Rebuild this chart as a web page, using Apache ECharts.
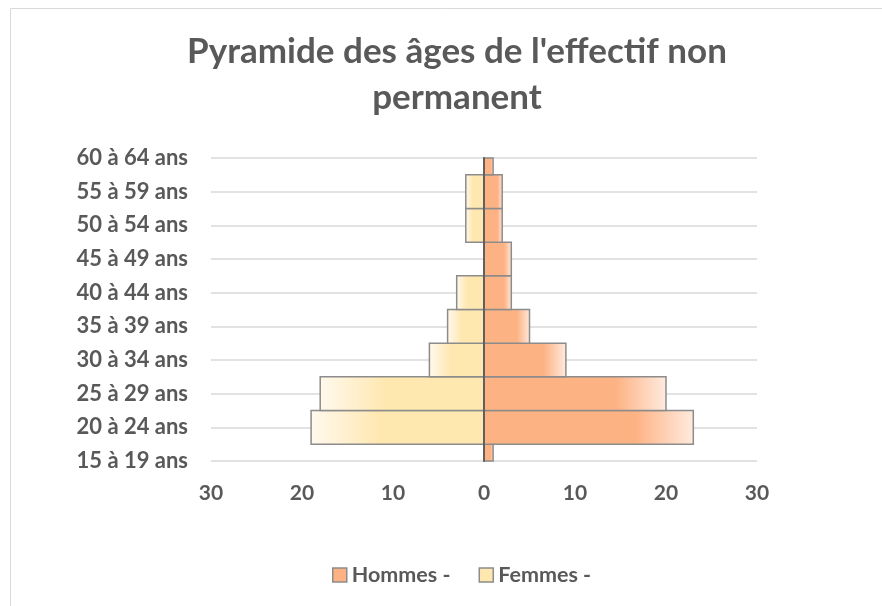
<!DOCTYPE html>
<html><head><meta charset="utf-8">
<script src="https://cdn.jsdelivr.net/npm/echarts@6/dist/echarts.min.js"></script>
<style>html,body{margin:0;padding:0;background:#fff}#c{width:882px;height:606px}</style>
</head><body><div id="c"></div>
<script>
const categories = ['15 à 19 ans','20 à 24 ans','25 à 29 ans','30 à 34 ans','35 à 39 ans','40 à 44 ans','45 à 49 ans','50 à 54 ans','55 à 59 ans','60 à 64 ans'];
const hommes = [1, 23, 20, 9, 5, 3, 3, 2, 2, 1];
const femmes = [0, -19, -18, -6, -4, -3, 0, -2, -2, 0];
const seriesNames = ['Hommes -', 'Femmes -'];
const titleText = "Pyramide des âges de l'effectif non\npermanent";

const chart = echarts.init(document.getElementById('c'));
const txt = '#595959';
const font = 'Lato';

const gradH = new echarts.graphic.LinearGradient(0, 0, 1, 0, [
  {offset: 0, color: '#FDB283'}, {offset: 0.72, color: '#FDB283'}, {offset: 1, color: '#FFEBE0'}]);
const gradF = new echarts.graphic.LinearGradient(0, 0, 1, 0, [
  {offset: 0, color: '#FFF9EE'}, {offset: 0.4, color: '#FFE7B0'}, {offset: 1, color: '#FFE7B0'}]);

function makeRender(fill) {
  return function (params, api) {
    const v = api.value(0);
    const idx = api.value(1);
    if (!v) return null;
    const p0 = api.coord([0, idx]);
    const p1 = api.coord([v, idx]);
    const h = api.size([0, idx])[1];
    const cs = params.coordSys;
    const rect = echarts.graphic.clipRectByRect(
      {x: Math.min(p0[0], p1[0]), y: p0[1] - h / 2, width: Math.abs(p1[0] - p0[0]), height: h},
      {x: cs.x, y: cs.y, width: cs.width, height: cs.height});
    if (!rect) return null;
    return {type: 'rect', shape: rect, style: {fill: fill, stroke: '#8C8C8C', lineWidth: 1.5}};
  };
}

chart.setOption({
  animation: false,
  textStyle: {fontFamily: font},
  graphic: [{type:'rect', shape:{x:10.5,y:8.5,width:900,height:700}, style:{fill:null, stroke:'#D9D9D9', lineWidth:1}, silent:true, z:-10}],
  title: {
    text: titleText, left: 452, top: 24, textAlign: 'center',
    textStyle: {fontFamily: font, fontSize: 35, fontWeight: 'bold', color: txt, lineHeight: 46}
  },
  legend: {
    top: 559, left: 327, itemWidth: 14, itemHeight: 14, itemGap: 28,
    textStyle: {fontFamily: font, fontSize: 21.5, fontWeight: 'bold', color: txt},
    data: [
      {name: seriesNames[0], icon: 'rect', itemStyle: {color: '#FDB283', borderColor: '#8C8C8C', borderWidth: 1.5}},
      {name: seriesNames[1], icon: 'rect', itemStyle: {color: '#FFE7B0', borderColor: '#8C8C8C', borderWidth: 1.5}}
    ]
  },
  grid: {left: 211, right: 125, top: 158, bottom: 145, containLabel: false},
  xAxis: {
    type: 'value', min: -30, max: 30, interval: 10,
    axisLine: {show: false}, axisTick: {show: false}, splitLine: {show: false},
    axisLabel: {margin: 22, fontFamily: font, fontSize: 21, fontWeight: 'bold', color: txt,
      formatter: v => Math.abs(v)}
  },
  yAxis: [
    {
      type: 'category', data: categories, boundaryGap: false,
      axisLine: {show: false, onZero: false}, axisTick: {show: false},
      splitLine: {show: true, lineStyle: {color: '#D9D9D9', width: 1.5}},
      axisLabel: {margin: 23, fontFamily: font, fontSize: 22, fontWeight: 'bold', color: txt}
    },
    {
      type: 'category', data: categories, boundaryGap: false, position: 'left', z: 10,
      axisLine: {show: true, onZero: true, lineStyle: {color: '#606060', width: 2}},
      axisTick: {show: false}, axisLabel: {show: false}, splitLine: {show: false}
    }
  ],
  series: [
    {
      name: seriesNames[0], type: 'custom', renderItem: makeRender(gradH),
      encode: {x: 0, y: 1}, yAxisIndex: 0,
      itemStyle: {color: '#FDB283'},
      data: hommes.map((v, i) => [v, i]), z: 3
    },
    {
      name: seriesNames[1], type: 'custom', renderItem: makeRender(gradF),
      encode: {x: 0, y: 1}, yAxisIndex: 0,
      itemStyle: {color: '#FFE7B0'},
      data: femmes.map((v, i) => [v, i]), z: 2
    }
  ]
});
</script></body></html>
